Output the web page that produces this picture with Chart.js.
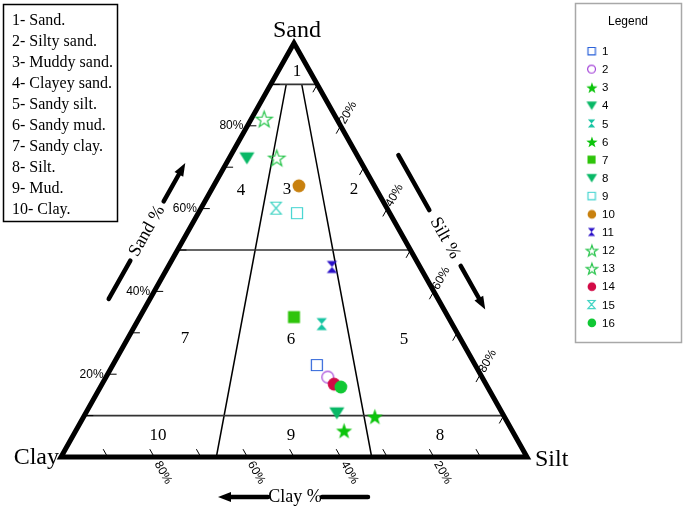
<!DOCTYPE html>
<html>
<head>
<meta charset="utf-8">
<script src="https://cdn.jsdelivr.net/npm/chart.js@4.4.0/dist/chart.umd.min.js"></script>
<style>
  body { margin: 0; background: #fff; }
  #wrap { width: 685px; height: 509px; }
</style>
</head>
<body>
<div id="wrap"><canvas id="ternary" width="685" height="509"></canvas></div>
<script>
// sample compositions (percent)
var sampleNames = ["1", "2", "3", "4", "5", "6", "7", "8", "9", "10", "11", "12", "13", "14", "15", "16"];
var sandPct = [22.2, 19.3, 9.7, 72.2, 32.1, 6.3, 33.8, 10.6, 58.9, 65.5, 45.9, 81.6, 72.2, 17.6, 60.1, 16.9];
var siltPct = [43.8, 47.6, 62.5, 3.8, 39.9, 57.6, 33.1, 53.9, 21.2, 18.3, 35.2, 2.8, 10.2, 49.8, 16.1, 51.6];
var clayPct = [34.0, 33.1, 27.8, 24.0, 28.0, 36.1, 33.1, 35.5, 19.9, 16.2, 18.9, 15.6, 17.6, 32.6, 23.8, 31.5];

// Folk classes
var classNames = ["1- Sand.", "2- Silty sand.", "3- Muddy sand.", "4- Clayey sand.", "5- Sandy silt.",
                  "6- Sandy mud.", "7- Sandy clay.", "8- Silt.", "9- Mud.", "10- Clay."];
var sandBoundaries = [90, 50, 10];
var mudSiltShares = [1 / 3, 2 / 3];   // silt / (silt + clay)
var tickSteps = [10, 20, 30, 40, 50, 60, 70, 80, 90];
var tickLabelValues = [20, 40, 60, 80];

// marker look per sample
var markerShapes = ["squareOpen", "circleOpen", "star", "triDown", "hourglass", "star", "square", "triDown",
                    "squareOpen", "circle", "hourglass", "starOpen", "starOpen", "circle", "hourglassOpen", "circle"];
var markerColors = ["#2b62d9", "#a444d8", "#0cc40c", "#08b866", "#16c4a2", "#0cc40c", "#2ec40a", "#08b866",
                    "#40d4d0", "#c8800e", "#2a10c8", "#26c44a", "#26c44a", "#d20a46", "#40d4c4", "#10c834"];
var markerSizes = { squareOpen: 12, circleOpen: 13, star: 17, triDown: 15, hourglass: 13, square: 13,
                    circle: 14, starOpen: 17, hourglassOpen: 13 };

var SERIF = "'Liberation Serif', 'Times New Roman', serif";
var SANS = "'Liberation Sans', Arial, sans-serif";

function toXY(sand, silt) {
    return { x: (silt + sand / 2) / 100, y: sand / 100 };
}

function makeMarker(shape, color, size) {
    var pad = 2;
    var c = document.createElement("canvas");
    c.width = c.height = Math.ceil(size + pad * 2);
    var g = c.getContext("2d");
    var s = size, o = pad, m = o + s / 2;
    g.fillStyle = color;
    g.strokeStyle = color;
    g.lineWidth = 1.2;
    g.beginPath();
    if (shape == "square" || shape == "squareOpen") {
        g.rect(o + 0.5, o + 0.5, s - 1, s - 1);
    } else if (shape == "circle" || shape == "circleOpen") {
        g.arc(m, m, s / 2 - 0.6, 0, Math.PI * 2);
    } else if (shape == "star" || shape == "starOpen") {
        for (var i = 0; i < 10; i++) {
            var r = i % 2 ? s * 0.2 : s / 2;
            var a = -Math.PI / 2 + i * Math.PI / 5;
            var px = m + r * Math.cos(a), py = m + 0.6 + r * Math.sin(a);
            if (i == 0) g.moveTo(px, py); else g.lineTo(px, py);
        }
    } else if (shape == "triDown") {
        g.moveTo(o, o + s * 0.12);
        g.lineTo(o + s, o + s * 0.12);
        g.lineTo(m, o + s * 0.92);
    } else {
        var w = s * 0.8;
        g.moveTo(m - w / 2, o + 0.5);
        g.lineTo(m + w / 2, o + 0.5);
        g.lineTo(m, m);
        g.lineTo(m + w / 2, o + s - 0.5);
        g.lineTo(m - w / 2, o + s - 0.5);
        g.lineTo(m, m);
    }
    g.closePath();
    if (shape.indexOf("Open") > 0) g.stroke(); else g.fill();
    return c;
}

var chartMarkers = markerShapes.map(function (sh, i) { return makeMarker(sh, markerColors[i], markerSizes[sh]); });
var legendMarkers = markerShapes.map(function (sh, i) { return makeMarker(sh, markerColors[i], markerSizes[sh] * 0.7); });

// sample point datasets
var datasets = sampleNames.map(function (name, i) {
    return {
        label: name,
        data: [toXY(sandPct[i], siltPct[i])],
        pointStyle: chartMarkers[i],
        pointRadius: 7,
        order: -i,
        clip: false,
    };
});

function lineSet(points, width, color) {
    return {
        data: points,
        showLine: true,
        pointRadius: 0,
        borderColor: color,
        borderWidth: width,
        borderJoinStyle: "miter",
        tension: 0,
        order: 10,
        clip: false,
    };
}

// outer triangle: clay, silt, sand corners
datasets.push(lineSet([toXY(0, 0), toXY(0, 100), toXY(100, 0), toXY(0, 0), toXY(0, 100)], 5, "#000"));
sandBoundaries.forEach(function (s) {
    datasets.push(lineSet([toXY(s, 0), toXY(s, 100 - s)], 1.6, "#333"));
});
mudSiltShares.forEach(function (r) {
    datasets.push(lineSet([toXY(90, 10 * r), toXY(0, 100 * r)], 1.5, "#000"));
});

function arrowTitle(ctx, cx, cy, ang, textAng, text, tail, tip, gap) {
    var dx = Math.cos(ang), dy = Math.sin(ang);
    ctx.save();
    ctx.strokeStyle = "#000";
    ctx.fillStyle = "#000";
    ctx.lineWidth = 4.5;
    ctx.lineCap = "round";
    ctx.beginPath();
    ctx.moveTo(cx - dx * tail, cy - dy * tail);
    ctx.lineTo(cx - dx * gap, cy - dy * gap);
    ctx.moveTo(cx + dx * gap, cy + dy * gap);
    ctx.lineTo(cx + dx * (tip - 10), cy + dy * (tip - 10));
    ctx.stroke();
    // head
    var hx = cx + dx * tip, hy = cy + dy * tip;
    ctx.beginPath();
    ctx.moveTo(hx, hy);
    ctx.lineTo(hx - dx * 13 - dy * 5, hy - dy * 13 + dx * 5);
    ctx.lineTo(hx - dx * 13 + dy * 5, hy - dy * 13 - dx * 5);
    ctx.closePath();
    ctx.fill();
    ctx.translate(cx, cy);
    ctx.rotate(textAng);
    ctx.font = "18px " + SERIF;
    ctx.textAlign = "center";
    ctx.textBaseline = "middle";
    ctx.fillText(text, 0, 0);
    ctx.restore();
}

var decorPlugin = {
    id: "decor",
    afterDraw: function (chart) {
        var ctx = chart.ctx;
        var xs = chart.scales.x, ys = chart.scales.y;
        function P(sand, silt) {
            var v = toXY(sand, silt);
            return { x: xs.getPixelForValue(v.x), y: ys.getPixelForValue(v.y) };
        }
        function unit(a, b) {
            var dx = b.x - a.x, dy = b.y - a.y, l = Math.sqrt(dx * dx + dy * dy);
            return { x: dx / l, y: dy / l };
        }
        ctx.save();
        ctx.strokeStyle = "#000";
        ctx.lineWidth = 1;
        ctx.fillStyle = "#000";

        // ticks on the three edges
        tickSteps.forEach(function (v) {
            var p, d;
            p = P(v, 0); d = unit(p, P(v, 10));
            ctx.beginPath(); ctx.moveTo(p.x, p.y); ctx.lineTo(p.x + d.x * 9, p.y + d.y * 9); ctx.stroke();
            p = P(0, 100 - v); d = unit(p, P(10, 90 - v));
            ctx.beginPath(); ctx.moveTo(p.x, p.y); ctx.lineTo(p.x + d.x * 9, p.y + d.y * 9); ctx.stroke();
            p = P(100 - v, v); d = unit(p, P(90 - v, v));
            ctx.beginPath(); ctx.moveTo(p.x, p.y); ctx.lineTo(p.x + d.x * 9, p.y + d.y * 9); ctx.stroke();
        });

        // tick labels
        ctx.font = "12px " + SANS;
        ctx.textBaseline = "middle";
        tickLabelValues.forEach(function (v) {
            var p = P(v, 0);
            ctx.textAlign = "right";
            ctx.fillText(v + "%", p.x - 4, p.y);

            ctx.textAlign = "left";
            p = P(100 - v, v);
            var d = unit(P(90 - v, v), p);
            ctx.save();
            ctx.translate(p.x + d.x * 3, p.y + d.y * 3);
            ctx.rotate(Math.atan2(d.y, d.x));
            ctx.fillText(v + "%", 0, 0);
            ctx.restore();

            p = P(0, 100 - v);
            d = unit(P(10, 90 - v), p);
            ctx.save();
            ctx.translate(p.x + d.x * 6, p.y + d.y * 6);
            ctx.rotate(Math.atan2(d.y, d.x));
            ctx.fillText(v + "%", 0, 0);
            ctx.restore();
        });

        // corner names
        ctx.font = "24px " + SERIF;
        ctx.textBaseline = "alphabetic";
        ctx.textAlign = "center";
        ctx.fillText("Sand", 297, 37);
        ctx.textAlign = "right";
        ctx.fillText("Clay", 59, 464);
        ctx.textAlign = "left";
        ctx.fillText("Silt", 535, 466);

        // class numbers
        ctx.font = "17px " + SERIF;
        ctx.textAlign = "center";
        ctx.textBaseline = "middle";
        var classSpots = [[297, 72], [354, 190], [287, 190], [241, 191], [404, 340],
                          [291, 340], [185, 339], [440, 436], [291, 436], [158, 436]];
        classSpots.forEach(function (s, i) { ctx.fillText(String(i + 1), s[0], s[1]); });

        // axis titles with arrows
        var left = Math.atan2(-414, 233), right = Math.atan2(414, 233);
        arrowTitle(ctx, 147, 231, left, left, "Sand %", 78, 78, 34);
        arrowTitle(ctx, 445, 238, right, right, "Silt %", 95, 82, 32);
        arrowTitle(ctx, 295, 497, Math.PI, 0, "Clay %", 73, 77, 27);

        // class list box
        ctx.lineWidth = 1.5;
        ctx.strokeStyle = "#000";
        ctx.strokeRect(3.5, 4.5, 114, 217);
        ctx.font = "16px " + SERIF;
        ctx.textAlign = "left";
        classNames.forEach(function (t, i) { ctx.fillText(t, 12, 21 + i * 21); });

        // sample legend box
        ctx.strokeStyle = "#a8a8a8";
        ctx.strokeRect(575.5, 3.5, 106, 339);
        ctx.font = "12px " + SANS;
        ctx.textAlign = "center";
        ctx.fillText("Legend", 628, 22);
        ctx.font = "11.5px " + SANS;
        ctx.textAlign = "left";
        sampleNames.forEach(function (n, i) {
            var y = 51.5 + i * 18.1;
            var m = legendMarkers[i];
            ctx.drawImage(m, 592 - m.width / 2, y - m.height / 2);
            ctx.fillText(n, 602, y + 0.5);
        });
        ctx.restore();
    },
};

new Chart(document.getElementById("ternary"), {
    type: "scatter",
    data: { datasets: datasets },
    options: {
        responsive: false,
        animation: false,
        events: [],
        layout: { padding: { left: 61, right: 158, top: 43, bottom: 52 } },
        scales: {
            x: { type: "linear", min: 0, max: 1, display: false },
            y: { type: "linear", min: 0, max: 1, display: false },
        },
        plugins: { legend: { display: false }, tooltip: { enabled: false } },
    },
    plugins: [decorPlugin],
});
</script>
</body>
</html>
